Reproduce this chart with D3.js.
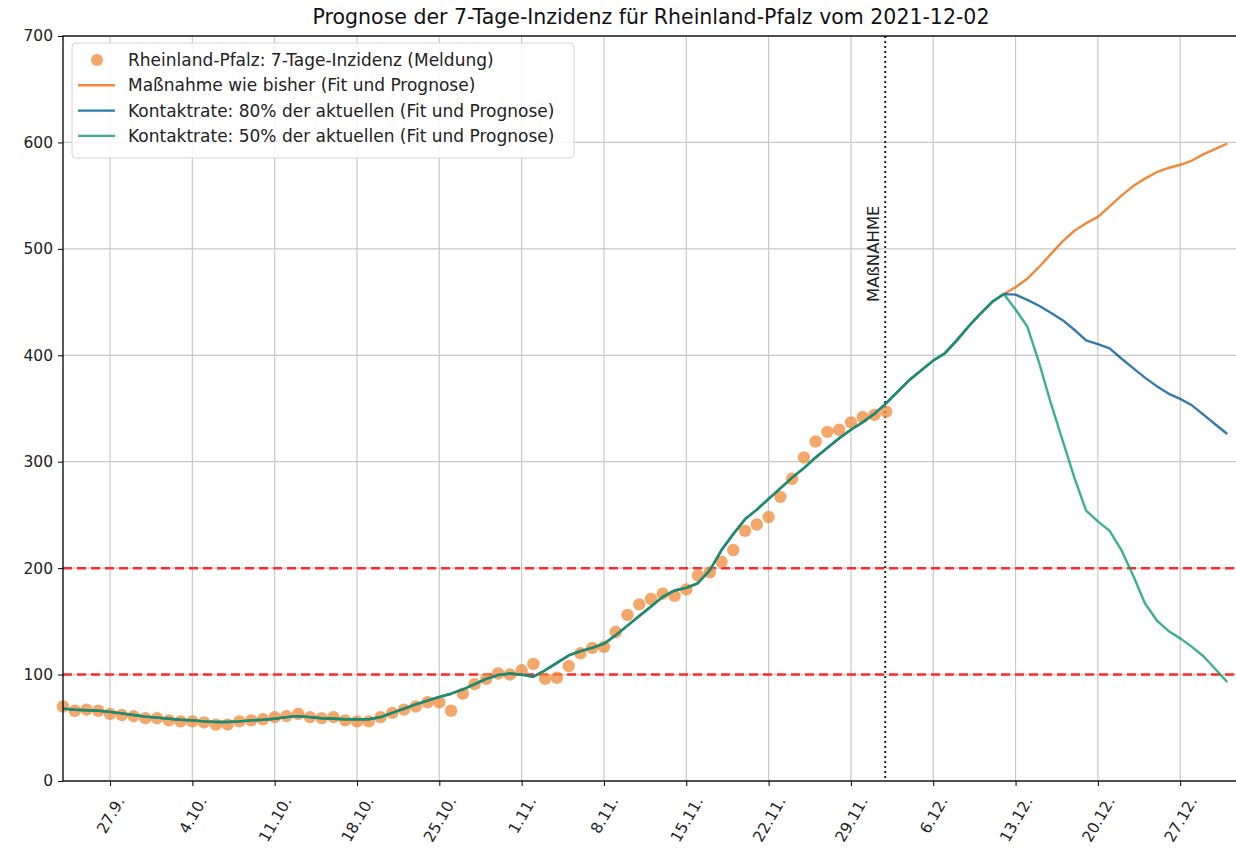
<!DOCTYPE html>
<html>
<head>
<meta charset="utf-8">
<script src="https://cdn.jsdelivr.net/npm/d3@7"></script>
<style>
body { margin: 0; background: #fff; }
text { font-family: "DejaVu Sans", sans-serif; }
</style>
</head>
<body>
<div id="chart"></div>
<script>
// data
const startDay = "2021-09-23";     // first reported value / first fit point
const massnahmeDay = "2021-12-02";
const branchDay = "2021-12-12";    // where the three scenarios split

// 7-Tage-Inzidenz (Meldung), daily from 23.9. to 2.12.
const meldung = [70, 66, 67, 66, 63, 62, 61, 59, 59, 57, 56, 56, 55, 53, 53, 56, 57, 58, 60, 61,
  63, 60, 59, 60, 57, 56, 56, 60, 64, 67, 70, 74, 74, 66, 82, 91, 96, 101, 100, 104,
  110, 96, 97, 108, 120, 125, 126, 140, 156, 166, 171, 176, 174, 180, 193, 196, 206, 217, 235, 241,
  248, 267, 284, 304, 319, 328, 330, 337, 342, 344, 347];

// common fit, daily from 23.9. to 12.12.
const fitCommon = [68, 67, 66.5, 66, 65, 63.5, 62, 60.5, 59.5, 58.5, 57.5, 57, 56, 55.5, 55.5, 56, 57, 57.5, 58.5, 60,
  61, 60, 59, 58.5, 58, 58, 58, 60, 64, 68, 72, 75.5, 79, 82, 86, 91, 96, 99.5, 101, 100,
  98, 104, 111, 118, 122, 125, 129, 137, 146, 155, 164, 173, 179, 181.5, 186, 198, 217, 232, 246, 255,
  265, 275, 285, 294, 304, 313, 322, 330, 337, 345, 355, 366, 377, 386, 395, 402, 414, 427, 439, 450,
  457.5];

// scenarios, daily from 12.12. to 31.12.
const progBisher = [457.5, 464, 472, 483, 495, 507, 517, 524, 530, 540, 550, 559, 566, 572, 576, 579, 583, 589, 594, 599];
const prog80 = [457.5, 457, 452, 446.5, 440, 433, 424, 414, 410.5, 406.5, 397, 388, 379, 371, 364, 359, 353, 344, 335, 326];
const prog50 = [457.5, 443, 427, 393, 355, 320, 285, 254, 244, 235, 217, 193, 167, 151, 141, 134, 126, 117, 105, 93];

const thresholds = [100, 200];
const yTicks = [0, 100, 200, 300, 400, 500, 600, 700];

const legendLabels = [
  "Rheinland-Pfalz: 7-Tage-Inzidenz (Meldung)",
  "Maßnahme wie bisher (Fit und Prognose)",
  "Kontaktrate: 80% der aktuellen (Fit und Prognose)",
  "Kontaktrate: 50% der aktuellen (Fit und Prognose)"
];

/////////////////////////
// setup
/////////////////////////
const W = 1236, H = 849;
const margin = {top: 36, left: 63, bottom: 68};
const plotW = 1176;   // right spine falls just outside the picture
const bottomY = H - margin.bottom;
const tickFont = 15.5;

const parse = d3.timeParse("%Y-%m-%d");
const t0 = parse(startDay);

function toSeries(arr, from) {
  return arr.map((v, i) => ({date: d3.timeDay.offset(from, i), value: v}));
}

const pts = toSeries(meldung, t0);
const common = toSeries(fitCommon, t0);
const sBisher = common.concat(toSeries(progBisher, parse(branchDay)).slice(1));
const s80 = common.concat(toSeries(prog80, parse(branchDay)).slice(1));
const s50 = common.concat(toSeries(prog50, parse(branchDay)).slice(1));

const x = d3.scaleTime()
  .domain([t0, d3.timeDay.offset(t0, 100)])
  .range([margin.left, margin.left + plotW]);
const y = d3.scaleLinear()
  .domain([0, 700])
  .range([bottomY, margin.top]);

const svg = d3.select("#chart").append("svg")
  .attr("width", W).attr("height", H)
  .style("background", "#fff");

// grid
const xTicks = x.ticks(d3.timeMonday.every(1));
svg.append("g").selectAll("line").data(xTicks).join("line")
  .attr("x1", d => x(d)).attr("x2", d => x(d))
  .attr("y1", margin.top).attr("y2", bottomY)
  .attr("stroke", "#c8c8c8").attr("stroke-width", 1.2);
svg.append("g").selectAll("line").data(yTicks).join("line")
  .attr("x1", margin.left).attr("x2", margin.left + plotW)
  .attr("y1", d => y(d)).attr("y2", d => y(d))
  .attr("stroke", "#c8c8c8").attr("stroke-width", 1.2);

// thresholds
svg.append("g").selectAll("line").data(thresholds).join("line")
  .attr("x1", margin.left).attr("x2", margin.left + plotW)
  .attr("y1", d => y(d)).attr("y2", d => y(d))
  .attr("stroke", "#ff2a2a").attr("stroke-width", 2.5)
  .attr("stroke-dasharray", "9,5");

// Maßnahme marker
const xm = x(parse(massnahmeDay)) - 1;
svg.append("line")
  .attr("x1", xm).attr("x2", xm)
  .attr("y1", margin.top).attr("y2", bottomY)
  .attr("stroke", "#222").attr("stroke-width", 2)
  .attr("stroke-dasharray", "2,3");
svg.append("text")
  .attr("transform", `translate(${xm - 6},${y(450)}) rotate(-90)`)
  .attr("font-size", 16.5).attr("fill", "#222")
  .text("MAßNAHME");

// points
svg.append("g").selectAll("circle").data(pts).join("circle")
  .attr("cx", d => x(d.date)).attr("cy", d => y(d.value))
  .attr("r", 6.2)
  .attr("fill", "#f08a3a").attr("fill-opacity", 0.75);

// fit / forecast lines
const line = d3.line().x(d => x(d.date)).y(d => y(d.value));
const lineStyles = [
  {data: sBisher, color: "#f16a09"},
  {data: s80, color: "#005b92"},
  {data: s50, color: "#0b9c73"}
];
lineStyles.forEach(s => {
  svg.append("path")
    .datum(s.data)
    .attr("d", line)
    .attr("fill", "none")
    .attr("stroke", s.color)
    .attr("stroke-opacity", 0.8)
    .attr("stroke-width", 2.4)
    .attr("stroke-linejoin", "round");
});

// axes
const yAxis = svg.append("g")
  .attr("transform", `translate(${margin.left},0)`)
  .call(d3.axisLeft(y).tickValues(yTicks).tickSize(5).tickPadding(5));
yAxis.select(".domain").remove();
yAxis.selectAll("text").attr("font-size", tickFont).attr("fill", "#222")
  .attr("font-family", "DejaVu Sans");

const xAxis = svg.append("g")
  .attr("transform", `translate(0,${bottomY})`)
  .call(d3.axisBottom(x).tickValues(xTicks).tickSize(5).tickFormat(d3.timeFormat("%-d.%-m.")));
xAxis.select(".domain").remove();
xAxis.selectAll("text")
  .attr("font-size", tickFont).attr("fill", "#222")
  .attr("font-family", "DejaVu Sans")
  .attr("y", 0).attr("dy", "0.35em")
  .style("text-anchor", "middle")
  .attr("transform", function() {
    const w = this.getComputedTextLength();
    const bh = w * Math.sin(Math.PI / 3) + tickFont * Math.cos(Math.PI / 3);
    return `translate(0,${13 + bh / 2}) rotate(-60)`;
  });

// spines
svg.append("rect")
  .attr("x", margin.left).attr("y", margin.top)
  .attr("width", plotW).attr("height", bottomY - margin.top)
  .attr("fill", "none").attr("stroke", "#000").attr("stroke-width", 1.3);

// title
svg.append("text")
  .attr("x", margin.left + plotW / 2).attr("y", 24)
  .attr("text-anchor", "middle")
  .attr("font-size", 20.5).attr("fill", "#111")
  .text("Prognose der 7-Tage-Inzidenz für Rheinland-Pfalz vom 2021-12-02");

// legend
const lg = svg.append("g");
lg.append("rect")
  .attr("x", 72).attr("y", 43).attr("width", 502).attr("height", 115).attr("rx", 4)
  .attr("fill", "#fff").attr("fill-opacity", 0.85)
  .attr("stroke", "#d4d4d4");
const legendColors = ["#f08a3a", "#f4883a", "#2b7ca8", "#3cb08f"];
legendLabels.forEach((lab, i) => {
  const ly = 60 + i * 25.3;
  if (i === 0) {
    lg.append("circle").attr("cx", 97).attr("cy", ly).attr("r", 6)
      .attr("fill", legendColors[i]).attr("fill-opacity", 0.75);
  } else {
    lg.append("line").attr("x1", 78).attr("x2", 115).attr("y1", ly).attr("y2", ly)
      .attr("stroke", legendColors[i]).attr("stroke-width", 2.4);
  }
  lg.append("text").attr("x", 128).attr("y", ly).attr("dy", "0.35em")
    .attr("font-size", 17).attr("fill", "#222")
    .text(lab);
});
</script>
</body>
</html>
